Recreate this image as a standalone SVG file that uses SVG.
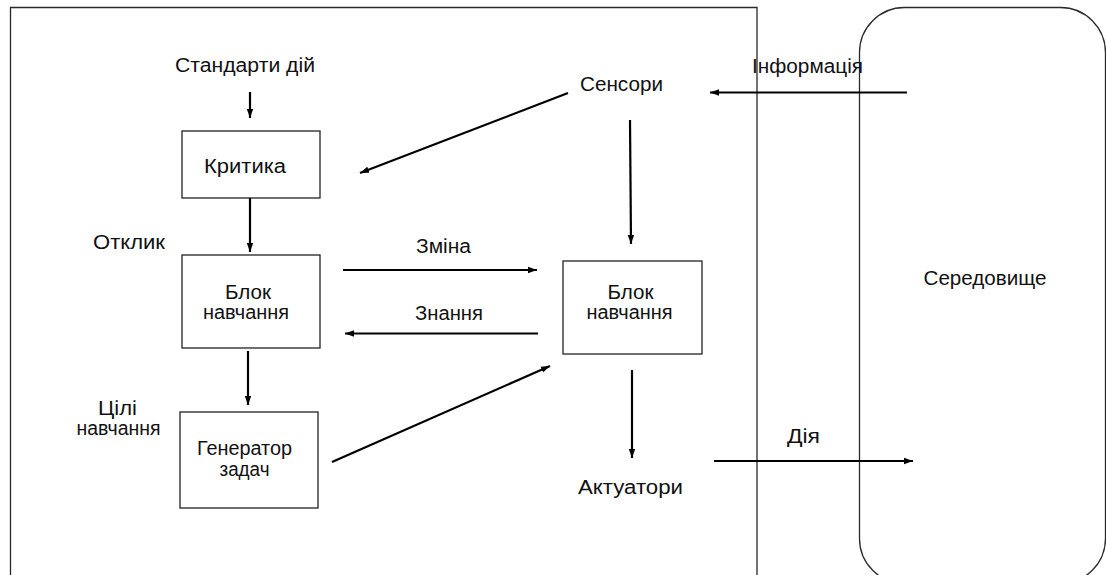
<svg xmlns="http://www.w3.org/2000/svg" width="1106" height="575" viewBox="0 0 1106 575">
  <style>
    .frame { fill: none; stroke: #2a2a2a; stroke-width: 1.3; }
    .box { fill: #ffffff; stroke: #222222; stroke-width: 1.3; }
    .lbl { font-family: "Liberation Sans", Arial, sans-serif; font-size: 20px; fill: #111111; text-anchor: middle; }
    .wire { fill: none; stroke: #000000; stroke-width: 2.2; }
  </style>
  <defs>
    <marker id="head" markerUnits="userSpaceOnUse" markerWidth="10" markerHeight="8" refX="9" refY="4" orient="auto">
      <path d="M0,0.8 L9,4 L0,7.2 Z" fill="#000000"/>
    </marker>
  </defs>

  <rect width="1106" height="575" fill="#ffffff"/>

  <!-- agent boundary (open at the bottom edge) -->
  <g id="agent">
    <path class="frame" d="M10.5,590 V7.5 H757 V590"/>
  </g>

  <!-- environment -->
  <g id="environment">
    <rect class="frame" x="859.5" y="7.5" width="246" height="576" rx="45" ry="45"/>
    <text class="lbl" x="985" y="285" textLength="123" lengthAdjust="spacingAndGlyphs">Середовище</text>
  </g>

  <g id="standards">
    <text class="lbl" x="245" y="72" textLength="140" lengthAdjust="spacingAndGlyphs">Стандарти дій</text>
  </g>

  <g id="critic">
    <rect class="box" x="182" y="131" width="138" height="67"/>
    <text class="lbl" x="245" y="173" textLength="82" lengthAdjust="spacingAndGlyphs">Критика</text>
  </g>

  <g id="feedback">
    <text class="lbl" x="129" y="249" textLength="72" lengthAdjust="spacingAndGlyphs">Отклик</text>
  </g>

  <g id="learning-element">
    <rect class="box" x="182" y="255" width="138" height="93"/>
    <text class="lbl" x="248" y="299" textLength="46" lengthAdjust="spacingAndGlyphs">Блок</text>
    <text class="lbl" x="246" y="319" textLength="86" lengthAdjust="spacingAndGlyphs">навчання</text>
  </g>

  <g id="learning-goals">
    <text class="lbl" x="117.5" y="415" textLength="39" lengthAdjust="spacingAndGlyphs">Цілі</text>
    <text class="lbl" x="118.5" y="435" textLength="84" lengthAdjust="spacingAndGlyphs">навчання</text>
  </g>

  <g id="problem-generator">
    <rect class="box" x="180" y="412" width="138" height="96"/>
    <text class="lbl" x="244.5" y="455" textLength="95" lengthAdjust="spacingAndGlyphs">Генератор</text>
    <text class="lbl" x="244.5" y="476" textLength="50" lengthAdjust="spacingAndGlyphs">задач</text>
  </g>

  <g id="performance-element">
    <rect class="box" x="563" y="261" width="139" height="93"/>
    <text class="lbl" x="630.5" y="299" textLength="46" lengthAdjust="spacingAndGlyphs">Блок</text>
    <text class="lbl" x="629.5" y="319" textLength="86" lengthAdjust="spacingAndGlyphs">навчання</text>
  </g>

  <g id="sensors">
    <text class="lbl" x="621.5" y="91" textLength="83" lengthAdjust="spacingAndGlyphs">Сенсори</text>
  </g>

  <g id="actuators">
    <text class="lbl" x="630.5" y="494" textLength="105" lengthAdjust="spacingAndGlyphs">Актуатори</text>
  </g>

  <!-- connectors with their labels -->
  <g id="connectors">
    <line class="wire" x1="250" y1="92" x2="250" y2="118" marker-end="url(#head)"/>
    <line class="wire" x1="250" y1="198" x2="250" y2="252" marker-end="url(#head)"/>
    <line class="wire" x1="248" y1="351" x2="248" y2="405" marker-end="url(#head)"/>
    <line class="wire" x1="343" y1="270" x2="537" y2="270" marker-end="url(#head)"/>
    <line class="wire" x1="538" y1="333.5" x2="345" y2="333.5" marker-end="url(#head)"/>
    <line class="wire" x1="568" y1="93" x2="360" y2="173" marker-end="url(#head)"/>
    <line class="wire" x1="630" y1="120" x2="631" y2="244" marker-end="url(#head)"/>
    <line class="wire" x1="332" y1="462" x2="550" y2="366" marker-end="url(#head)"/>
    <line class="wire" x1="632" y1="370" x2="632" y2="458" marker-end="url(#head)"/>
    <line class="wire" x1="907" y1="92.5" x2="710" y2="92.5" marker-end="url(#head)"/>
    <line class="wire" x1="714" y1="461" x2="913" y2="461" marker-end="url(#head)"/>
    <text class="lbl" x="443.5" y="253" textLength="55" lengthAdjust="spacingAndGlyphs">Зміна</text>
    <text class="lbl" x="449" y="320" textLength="68" lengthAdjust="spacingAndGlyphs">Знання</text>
    <text class="lbl" x="807.5" y="73" textLength="111" lengthAdjust="spacingAndGlyphs">Інформація</text>
    <text class="lbl" x="803.5" y="443" textLength="33" lengthAdjust="spacingAndGlyphs">Дія</text>
  </g>
</svg>
